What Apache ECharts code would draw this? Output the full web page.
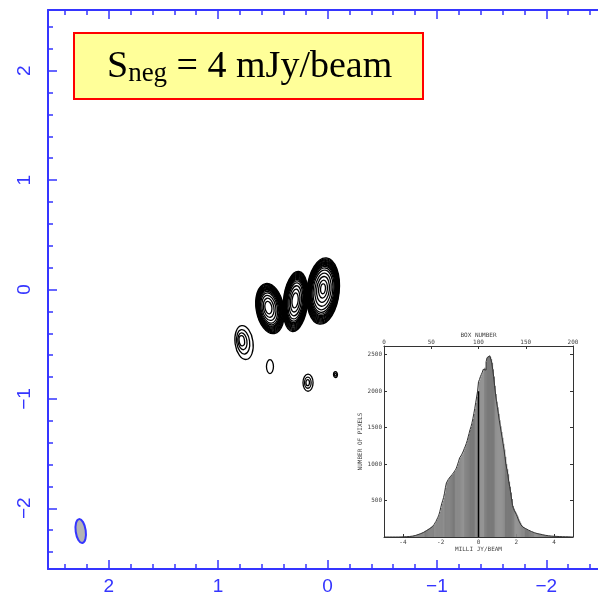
<!DOCTYPE html>
<html><head><meta charset="utf-8">
<script src="https://cdn.jsdelivr.net/npm/echarts@6/dist/echarts.min.js"></script>
<style>html,body{margin:0;padding:0;background:#fff}#c{width:598px;height:607px}</style>
</head><body><div id="c"></div>
<script>
// ---------- main map axes (arcsec offsets) ----------
const mapMajorTicks = [-2, -1, 0, 1, 2];
const mapMinorTicks = [-2.4,-2.2,-1.8,-1.6,-1.4,-1.2,-0.8,-0.6,-0.4,-0.2,0.2,0.4,0.6,0.8,1.2,1.4,1.6,1.8,2.2,2.4];
const mapRange = [-2.555, 2.555];

// ---------- contour components (centre, semi-axes, tilt deg, peak shift, contour levels) ----------
const compCenter = [[0.526,-0.174],[0.292,-0.110],[0.041,-0.014],[0.763,-0.485],[0.526,-0.705],[0.178,-0.852],[-0.073,-0.778]];
const compRadius = [[0.126,0.232],[0.112,0.276],[0.148,0.304],[0.082,0.156],[0.032,0.064],[0.046,0.078],[0.018,0.027]];
const compTilt   = [-10, 6, 6, -8, 0, 0, 0];
const compPeak   = [[0.15,0.05],[0.05,0.05],[0.0,0.08],[0.35,0.15],[0,0],[0.1,0],[0,0]];
const compLevels = [
  [1,0.965,0.93,0.895,0.86,0.825,0.79,0.755,0.72,0.67,0.6,0.5,0.38,0.25],
  [1,0.965,0.93,0.895,0.86,0.825,0.79,0.755,0.72,0.67,0.6,0.5,0.38,0.25],
  [1,0.97,0.94,0.91,0.88,0.85,0.82,0.79,0.76,0.72,0.67,0.6,0.5,0.39,0.27,0.15],
  [1,0.72,0.5,0.3],
  [1],
  [1,0.65,0.35],
  [1,0.5]
];
// restoring beam
const beam = [[2.256,-2.208,0.046,0.110,-8]];

// ---------- inset histogram ----------
const boxTicks = [0,50,100,150,200];
const mJyTicks = [-4,-2,0,2,4];
const countTicks = [500,1000,1500,2000,2500];
const histCounts = [
  0,0,0,0,0,0,0,0,0,1, 0,0,1,0,0,1,0,1,1,2,
  2,3,3,4,5,6,7,8,10,12, 14,17,20,24,28,33,38,42,47,52,
  58,64,72,80,88,95,104,112,122,132, 140,148,160,172,190,215,240,270,300,345,
  400,455,495,540,600,680,740,765,790,810, 825,840,855,870,890,905,930,960,1000,1040,
  1085,1105,1125,1150,1180,1215,1245,1280,1320,1370, 1420,1470,1510,1560,1620,1690,1760,1840,1920,2000,
  2130,2160,2200,2230,2260,2300,2320,2290,2400,2460, 2480,2485,2470,2440,2390,2300,2200,2075,1960,1860,
  1780,1690,1600,1520,1440,1360,1280,1200,1100,1000, 930,860,760,690,610,520,430,390,360,335,
  310,280,245,215,190,165,148,135,125,115, 108,100,94,88,82,76,71,66,60,55,
  50,48,45,42,40,37,34,31,28,25, 23,21,19,17,16,14,13,12,11,10,
  9,8,8,7,6,6,5,5,4,4, 3,3,3,2,2,2,1,1,1,0
];
const zeroMarker = [[0,0],[0,2000]];

// ---------- build ----------
const contourItems = [];
compCenter.forEach((c, k) => {
  compLevels[k].forEach(l => {
    contourItems.push([
      c[0] + (1 - l) * compPeak[k][0] * compRadius[k][0],
      c[1] + (1 - l) * compPeak[k][1] * compRadius[k][1],
      compRadius[k][0] * l, compRadius[k][1] * l, compTilt[k]
    ]);
  });
});
const histItems = histCounts.map((v, i) => [i, v]);
const outline = histCounts.map((v, i) => [i, v]);
outline.push([histCounts.length, histCounts[histCounts.length - 1]]);

const BLUE = '#3535ff';
const fmt = v => (v < 0 ? '\u2212' + (-v) : String(v));
function ellipseItem(stroke, fill, lw) {
  return function (params, api) {
    const p = api.coord([api.value(0), api.value(1)]);
    const s = api.size([api.value(2), api.value(3)]);
    return { type: 'ellipse', x: p[0], y: p[1], rotation: -api.value(4) * Math.PI / 180,
      shape: { cx: 0, cy: 0, rx: s[0], ry: s[1] }, style: { fill: fill, stroke: stroke, lineWidth: lw } };
  };
}
function mapAxis(gridIndex, position, ticks, len, showLine, labels, extra) {
  return Object.assign({
    type: 'value', gridIndex, position, min: mapRange[0], max: mapRange[1],
    axisLine: { show: showLine, onZero: false, lineStyle: { color: BLUE, width: 2 } },
    axisTick: { show: true, inside: true, length: len, customValues: ticks, lineStyle: { color: BLUE, width: 1.5 } },
    axisLabel: { show: false },
    splitLine: { show: false }
  }, extra || {});
}
const tiny = { color: '#444', fontSize: 6, fontFamily: 'DejaVu Sans Mono' };
const HC = '#333';
const plain = v => String(v);

const ctx = document.createElement('canvas').getContext('2d');
ctx.font = '38px "Liberation Serif"'; const wS = ctx.measureText('S').width;
ctx.font = '27px "Liberation Serif"'; const wSub = ctx.measureText('neg').width;

const mapGrid = { left: 48, top: 10, width: 559, height: 559, outerBoundsMode: 'none', containLabel: false };
const chart = echarts.init(document.getElementById('c'), null, { renderer: 'canvas' });
chart.setOption({
  animation: false,
  backgroundColor: '#fff',
  grid: [
    Object.assign({}, mapGrid),
    Object.assign({}, mapGrid),
    { left: 384, top: 346, width: 189, height: 191, outerBoundsMode: 'none', containLabel: false }
  ],
  xAxis: [
    mapAxis(0, 'bottom', mapMajorTicks, 9, true, true, { inverse: true, axisLabel: { show: true, customValues: mapMajorTicks, formatter: fmt, color: BLUE, fontSize: 19, fontFamily: 'Liberation Sans', margin: 8 } }),
    mapAxis(0, 'top', mapMajorTicks, 9, true, false, { inverse: true }),
    mapAxis(1, 'bottom', mapMinorTicks, 5, false, false, { inverse: true }),
    mapAxis(1, 'top', mapMinorTicks, 5, false, false, { inverse: true }),
    { type: 'value', gridIndex: 2, position: 'bottom', min: -5, max: 5,
      name: 'MILLI JY/BEAM', nameLocation: 'middle', nameGap: 9, nameTextStyle: tiny,
      axisLine: { show: true, onZero: false, lineStyle: { color: HC, width: 1 } },
      axisTick: { inside: true, length: 3, customValues: mJyTicks, lineStyle: { color: HC } },
      axisLabel: Object.assign({ customValues: mJyTicks, formatter: plain, margin: 2 }, tiny),
      splitLine: { show: false } },
    { type: 'value', gridIndex: 2, position: 'top', min: 0, max: 200,
      name: 'BOX NUMBER', nameLocation: 'middle', nameGap: 8, nameTextStyle: tiny,
      axisLine: { show: true, onZero: false, lineStyle: { color: HC, width: 1 } },
      axisTick: { inside: true, length: 3, customValues: boxTicks, lineStyle: { color: HC } },
      axisLabel: Object.assign({ customValues: boxTicks, formatter: plain, margin: 1 }, tiny),
      splitLine: { show: false } }
  ],
  yAxis: [
    mapAxis(0, 'left', mapMajorTicks, 9, true, true, { axisLabel: { show: true, customValues: mapMajorTicks, formatter: fmt, color: BLUE, fontSize: 19, fontFamily: 'Liberation Sans', rotate: 90, margin: 14 } }),
    mapAxis(0, 'right', mapMajorTicks, 9, true, false),
    mapAxis(1, 'left', mapMinorTicks, 5, false, false),
    mapAxis(1, 'right', mapMinorTicks, 5, false, false),
    { type: 'value', gridIndex: 2, position: 'left', min: 0, max: 2620,
      name: 'NUMBER OF PIXELS', nameLocation: 'middle', nameRotate: 90, nameGap: 18, nameTextStyle: tiny,
      axisLine: { show: true, onZero: false, lineStyle: { color: HC, width: 1 } },
      axisTick: { inside: true, length: 3, customValues: countTicks, lineStyle: { color: HC } },
      axisLabel: Object.assign({ customValues: countTicks, formatter: plain, margin: 2 }, tiny),
      splitLine: { show: false } },
    { type: 'value', gridIndex: 2, position: 'right', min: 0, max: 2620,
      axisLine: { show: true, onZero: false, lineStyle: { color: HC, width: 1 } },
      axisTick: { inside: true, length: 3, customValues: countTicks, lineStyle: { color: HC } },
      axisLabel: { show: false }, splitLine: { show: false } }
  ],
  series: [
    { type: 'custom', xAxisIndex: 0, yAxisIndex: 0, data: contourItems, encode: { x: 0, y: 1 }, clip: false, silent: true,
      renderItem: ellipseItem('#000', 'none', 1.3) },
    { type: 'custom', xAxisIndex: 0, yAxisIndex: 0, data: beam, encode: { x: 0, y: 1 }, clip: false, silent: true,
      renderItem: ellipseItem(BLUE, '#b4b4b4', 2) },
    { type: 'custom', xAxisIndex: 5, yAxisIndex: 4, data: histItems, encode: { x: 0, y: 1 }, silent: true,
      renderItem: (params, api) => {
        const i = api.value(0), v = api.value(1);
        const p0 = api.coord([i, 0]), p1 = api.coord([i + 1, v]);
        const band = Math.floor(i / 10.6) % 2;
        return { type: 'rect', shape: { x: p0[0], y: p1[1], width: p1[0] - p0[0] + 0.4, height: p0[1] - p1[1] },
          style: { fill: band ? '#8a8a8a' : '#7a7a7a' } };
      } },
    { type: 'line', xAxisIndex: 5, yAxisIndex: 4, data: outline, step: 'end', symbol: 'none', silent: true,
      lineStyle: { color: '#333', width: 1 } },
    { type: 'line', xAxisIndex: 4, yAxisIndex: 4, data: zeroMarker, symbol: 'none', silent: true,
      lineStyle: { color: '#000', width: 1.5 } }
  ],
  graphic: [
    { type: 'rect', left: 73, top: 32, shape: { width: 349, height: 66 }, style: { fill: '#ffff99', stroke: '#ff0000', lineWidth: 2 }, z: 10 },
    { type: 'text', x: 107, y: 67, z: 11, style: { text: 'S', fontSize: 38, fontFamily: 'Liberation Serif', fill: '#000', verticalAlign: 'middle' } },
    { type: 'text', x: 107 + wS, y: 74, z: 11, style: { text: 'neg', fontSize: 27, fontFamily: 'Liberation Serif', fill: '#000', verticalAlign: 'middle' } },
    { type: 'text', x: 107 + wS + wSub, y: 67, z: 11, style: { text: ' = 4 mJy/beam', fontSize: 38, fontFamily: 'Liberation Serif', fill: '#000', verticalAlign: 'middle' } }
  ]
});
</script></body></html>
